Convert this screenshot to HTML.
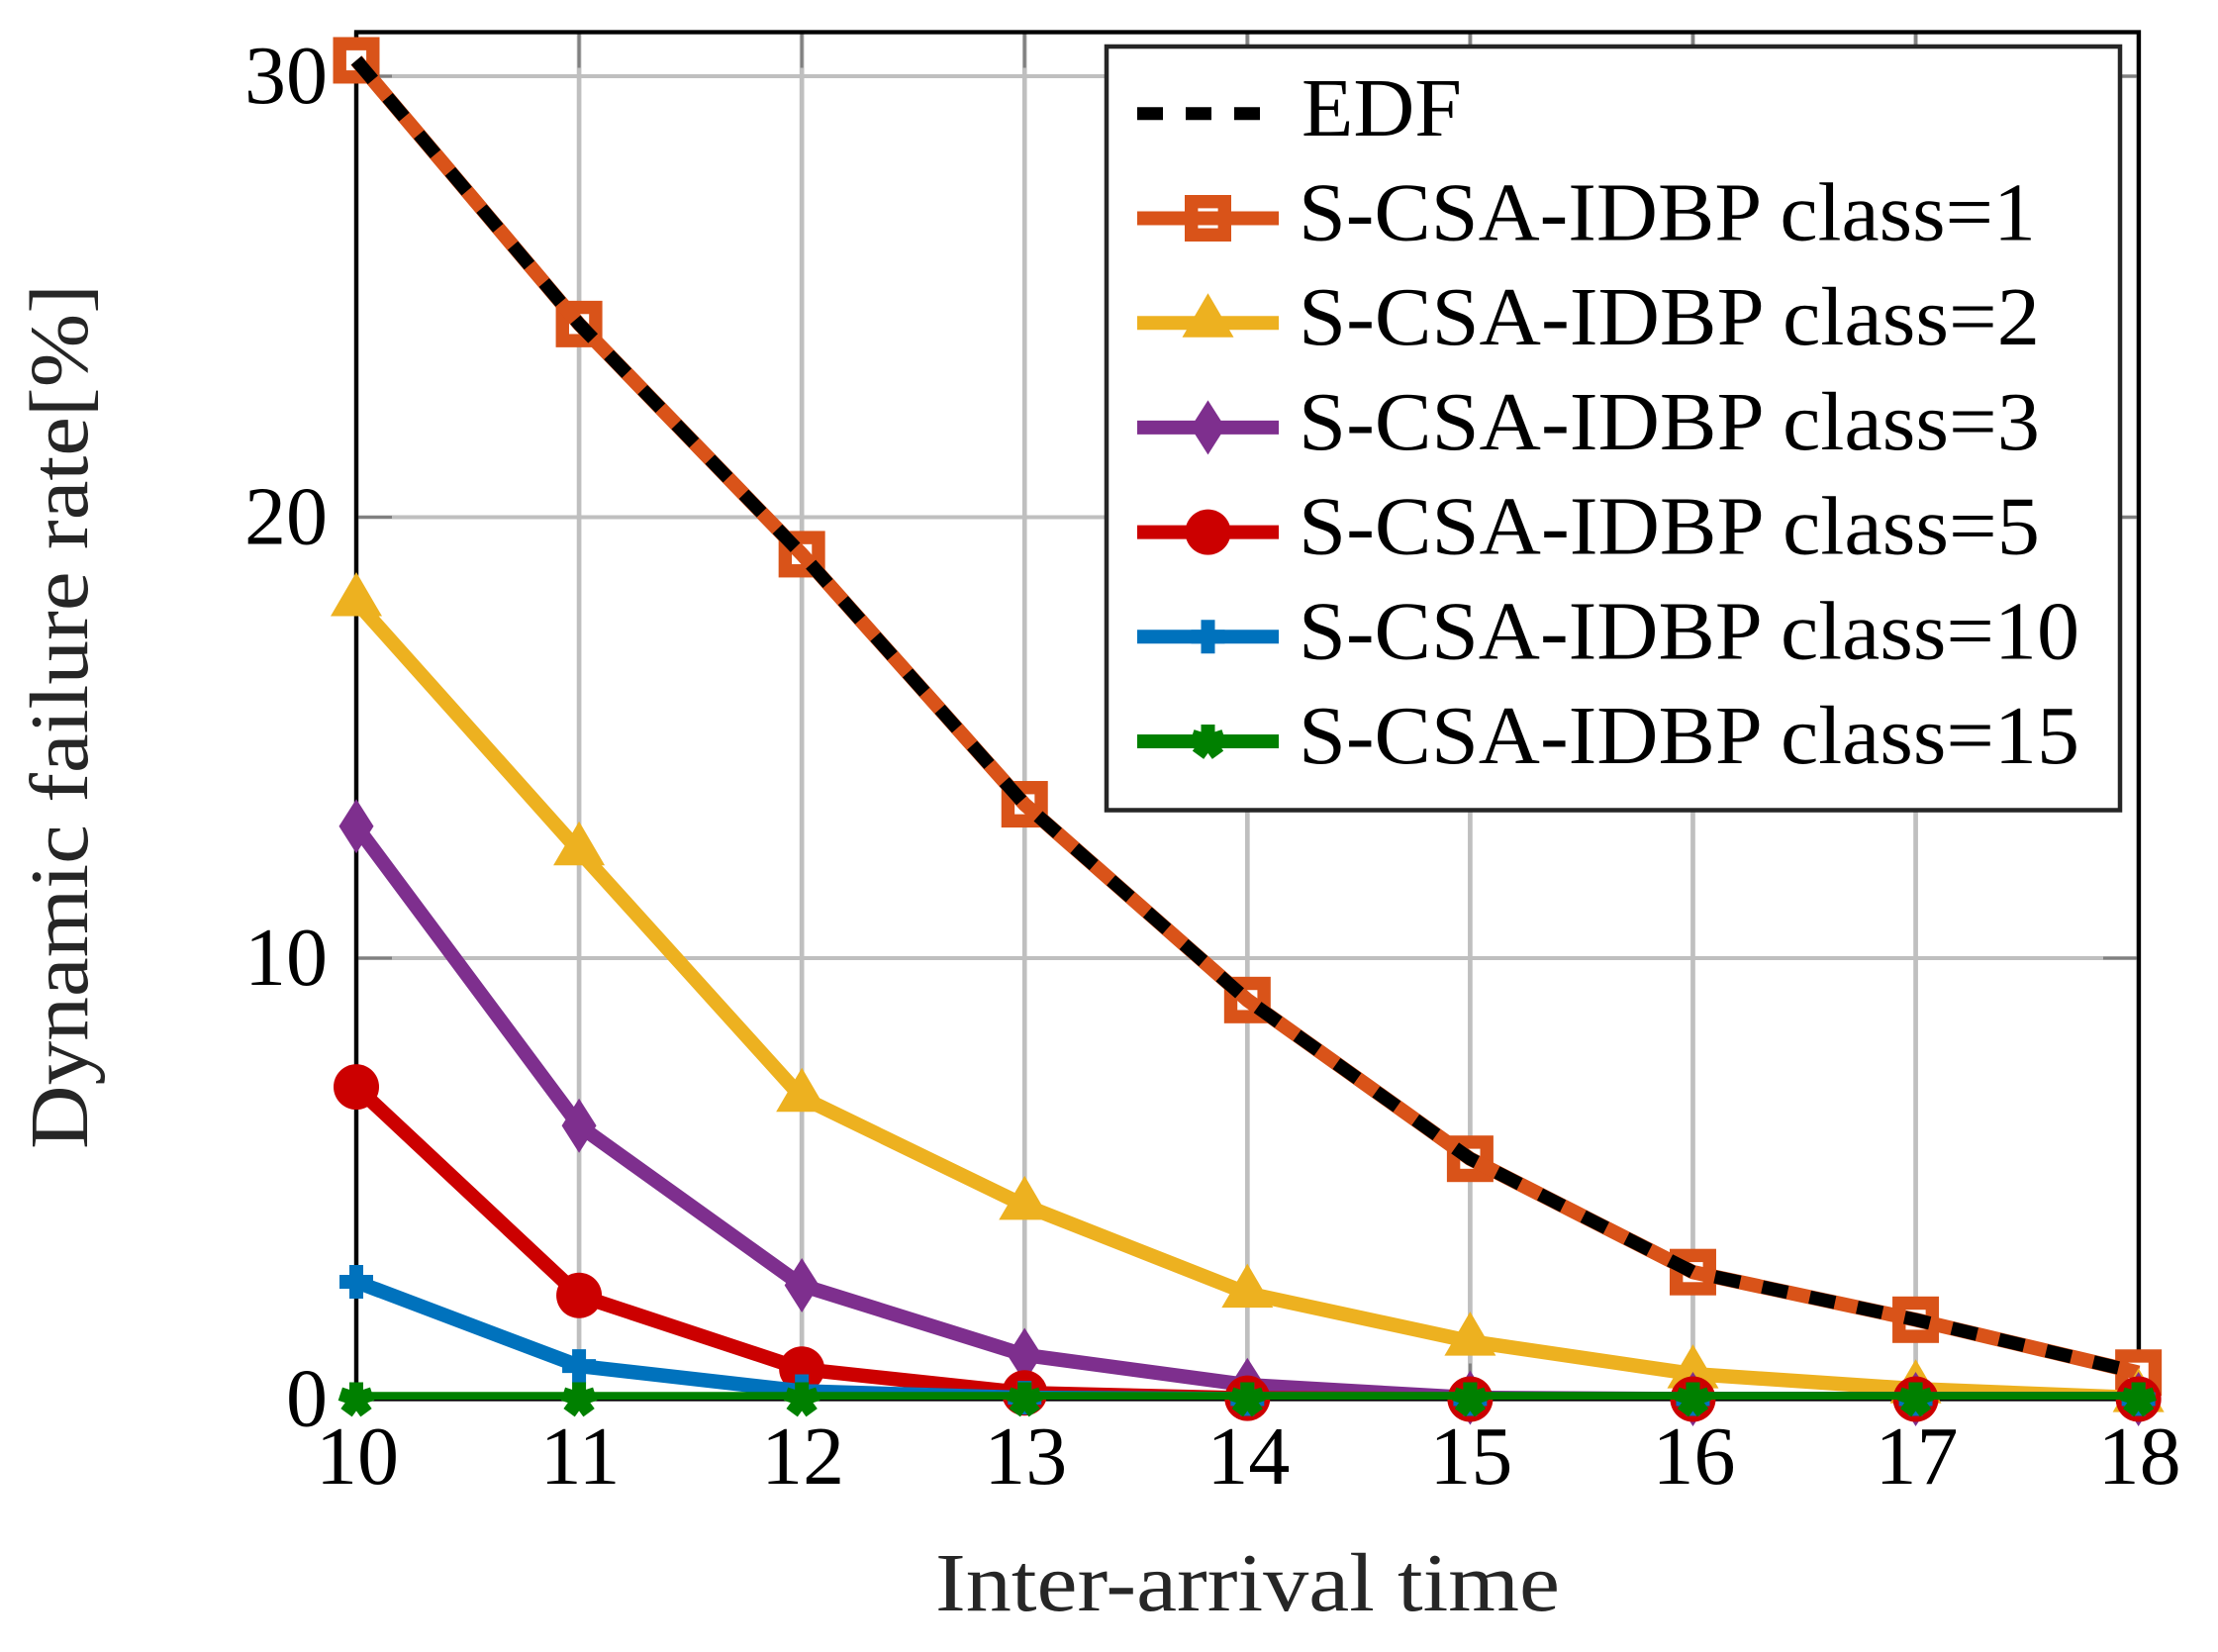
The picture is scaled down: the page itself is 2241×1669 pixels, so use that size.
<!DOCTYPE html>
<html lang="en">
<head>
<meta charset="utf-8">
<title>Dynamic failure rate vs inter-arrival time</title>
<style>
  html, body { margin: 0; padding: 0; background: #fff; }
  svg { display: block; }
  text { font-family: "Liberation Serif", serif; font-size: 84px; fill: #000; }
</style>
</head>
<body>
<svg id="chart" xmlns="http://www.w3.org/2000/svg" width="2241" height="1669" viewBox="0 0 2241 1669">
  <defs>
    <clipPath id="plot-clip"><rect x="300" y="0" width="1920" height="1414"></rect></clipPath>
  </defs>
  <rect x="0" y="0" width="2241" height="1669" fill="#ffffff"></rect>
</svg>
<script>
// Chart data
const interArrival = [10, 11, 12, 13, 14, 15, 16, 17, 18];
const yTickValues = [0, 10, 20, 30];
const edfValues = [30.36, 24.38, 19.16, 13.49, 9.05, 5.45, 2.88, 1.8, 0.6];
const class1Values = [30.36, 24.38, 19.16, 13.49, 9.05, 5.45, 2.88, 1.8, 0.6];
const class2Values = [18.08, 12.43, 6.84, 4.39, 2.4, 1.31, 0.57, 0.23, 0.03];
const class3Values = [12.99, 6.2, 2.58, 1.0, 0.32, 0.03, 0, 0, 0];
const class5Values = [7.08, 2.35, 0.68, 0.14, 0.02, 0, 0, 0, 0];
const class10Values = [2.66, 0.75, 0.18, 0.03, 0, 0, 0, 0, 0];
const class15Values = [0, 0, 0, 0, 0, 0, 0, 0, 0];
const legendLabels = ['EDF', 'S-CSA-IDBP class=1', 'S-CSA-IDBP class=2', 'S-CSA-IDBP class=3', 'S-CSA-IDBP class=5', 'S-CSA-IDBP class=10', 'S-CSA-IDBP class=15'];
const xAxisTitle = 'Inter-arrival time';
const yAxisTitle = 'Dynamic failure rate[%]';

const svg = document.getElementById('chart');
const NS = 'http://www.w3.org/2000/svg';

function make(tag, attrs, parent) {
  const node = document.createElementNS(NS, tag);
  for (const key in attrs) node.setAttribute(key, attrs[key]);
  (parent || svg).appendChild(node);
  return node;
}

// Axis functions
function xScale(v) { return 360 + (v - 10) * 225.08; }
function yScale(v) { return 1413.5 - v * 44.55; }
const plotLeft = 360, plotRight = 2161, plotTop = 32.5, plotBottom = 1413.5;

// Grid
interArrival.forEach(function (v) {
  const el = make('line', { x1: xScale(v), x2: xScale(v), y1: plotTop, y2: plotBottom, stroke: '#bfbfbf', 'stroke-width': 4.7 });
  
  
});
yTickValues.forEach(function (v) {
  const el = make('line', { x1: plotLeft, x2: plotRight, y1: yScale(v), y2: yScale(v), stroke: '#bfbfbf', 'stroke-width': 4 });
  
  
});

// Tick marks
interArrival.forEach(function (v) {
  [[plotTop, plotTop + 36], [plotBottom - 36, plotBottom]].forEach(function (r) {
    const el = make('line', { x1: xScale(v), x2: xScale(v), y1: r[0], y2: r[1], stroke: '#808080', 'stroke-width': 3 });
    
    
  });
});
yTickValues.forEach(function (v) {
  [[plotLeft, plotLeft + 36], [plotRight - 36, plotRight]].forEach(function (r) {
    const el = make('line', { x1: r[0], x2: r[1], y1: yScale(v), y2: yScale(v), stroke: '#808080', 'stroke-width': 3 });
    
    
  });
});

// Axis frame
const frame = make('rect', { x: plotLeft, y: plotTop, width: plotRight - plotLeft, height: plotBottom - plotTop, fill: 'none', stroke: '#000', 'stroke-width': 4.3 });



// Tick labels
interArrival.forEach(function (v) {
  const el = make('text', { x: xScale(v) + 1, y: 1499, 'text-anchor': 'middle' });
  el.textContent = String(v);
  
  
});
yTickValues.forEach(function (v) {
  const el = make('text', { x: 331, y: yScale(v) + 27, 'text-anchor': 'end' });
  el.textContent = String(v);
  
  
});

// Axis titles
const xTitle = make('text', { x: 945, y: 1627, textLength: 631, lengthAdjust: 'spacingAndGlyphs', style: 'fill:#262626' });
xTitle.textContent = xAxisTitle;



const yTitle = make('text', { transform: 'translate(88,1161) rotate(-90)', x: 0, y: 0, textLength: 874, lengthAdjust: 'spacingAndGlyphs', style: 'fill:#262626' });
yTitle.textContent = yAxisTitle;



// Marker drawing
function drawMarker(kind, cx, cy, color, parent) {
  const g = make('g', { transform: 'translate(' + cx + ',' + cy + ')' }, parent);
  if (kind === 'square') {
    make('rect', { x: -16.8, y: -16.8, width: 33.6, height: 33.6, fill: '#fff', stroke: color, 'stroke-width': 13.4 }, g);
  } else if (kind === 'triangle') {
    make('polygon', { points: '0,-30 26,14.5 -26,14.5', fill: color }, g);
  } else if (kind === 'diamond') {
    make('polygon', { points: '0,-27.5 17.5,0 0,27.5 -17.5,0', fill: color }, g);
  } else if (kind === 'circle') {
    make('circle', { cx: 0, cy: 0, r: 23, fill: color }, g);
  } else if (kind === 'plus') {
    make('path', { d: 'M-17 0H17M0 -17V17', stroke: color, 'stroke-width': 14, fill: 'none' }, g);
  } else if (kind === 'star') {
    for (let i = 0; i < 5; i++) {
      const a = (i * 72 - 90) * Math.PI / 180;
      make('line', { x1: 0, y1: 0, x2: 17 * Math.cos(a), y2: 17 * Math.sin(a), stroke: color, 'stroke-width': 14 }, g);
    }
  }
  return g;
}

// Series styling (draw order: class 1 under EDF)
const plotSeries = [
  { id: 'class-1', values: class1Values, color: '#D95319', marker: 'square', markerFirst: true },
  { id: 'edf', values: edfValues, color: '#000000', dash: '26 23', width: 13.5 },
  { id: 'class-2', values: class2Values, color: '#EDB120', marker: 'triangle' },
  { id: 'class-3', values: class3Values, color: '#7E2F8E', marker: 'diamond' },
  { id: 'class-5', values: class5Values, color: '#CC0000', marker: 'circle' },
  { id: 'class-10', values: class10Values, color: '#0072BD', marker: 'plus' },
  { id: 'class-15', values: class15Values, color: '#008000', marker: 'star' }
];

function drawSeriesLine(s, group) {
  const pts = s.values.map(function (v, i) { return xScale(interArrival[i]) + ',' + yScale(v); }).join(' ');
  const el = make('polyline', {
    points: pts, fill: 'none', stroke: s.color, 'stroke-width': s.width || 14.5,
    'stroke-linejoin': 'round', 'clip-path': 'url(#plot-clip)'
  }, group);
  if (s.dash) el.setAttribute('stroke-dasharray', s.dash);
  
  
}

function drawSeriesMarkers(s, group) {
  if (!s.marker) return;
  s.values.forEach(function (v, i) {
    const el = drawMarker(s.marker, xScale(interArrival[i]), yScale(v), s.color, group);
    
    
  });
}

plotSeries.forEach(function (s) {
  const group = make('g', {});
  
  
  if (s.markerFirst) {
    drawSeriesMarkers(s, group);
    drawSeriesLine(s, group);
  } else {
    drawSeriesLine(s, group);
    drawSeriesMarkers(s, group);
  }
});

// Legend
const legend = make('g', {});



const legendBox = make('rect', { x: 1118, y: 47, width: 1024, height: 771.5, fill: '#fff', stroke: '#262626', 'stroke-width': 4.5 }, legend);



const legendKeys = [
  { color: '#000000', dash: '26 23', width: 13, length: 162, x: 1315 },
  { color: '#D95319', marker: 'square', markerFirst: true, length: 745, x: 1312 },
  { color: '#EDB120', marker: 'triangle', length: 749, x: 1312 },
  { color: '#7E2F8E', marker: 'diamond', length: 749, x: 1312 },
  { color: '#CC0000', marker: 'circle', length: 749, x: 1312 },
  { color: '#0072BD', marker: 'plus', length: 789, x: 1312 },
  { color: '#008000', marker: 'star', length: 789, x: 1312 }
];

legendLabels.forEach(function (label, i) {
  const k = legendKeys[i];
  const cy = 114.8 + i * 105.7;
  const row = make('g', {}, legend);
  
  
  if (k.marker && k.markerFirst) drawMarker(k.marker, 1220.5, cy, k.color, row);
  const line = make('line', { x1: 1149, x2: 1292, y1: cy, y2: cy, stroke: k.color, 'stroke-width': k.width || 14 }, row);
  if (k.dash) line.setAttribute('stroke-dasharray', k.dash);
  
  
  if (k.marker && !k.markerFirst) drawMarker(k.marker, 1220.5, cy, k.color, row);
  const txt = make('text', { x: k.x, y: cy + 22, textLength: k.length, lengthAdjust: 'spacingAndGlyphs' }, row);
  txt.textContent = label;
  
  
});
</script>
</body>
</html>
